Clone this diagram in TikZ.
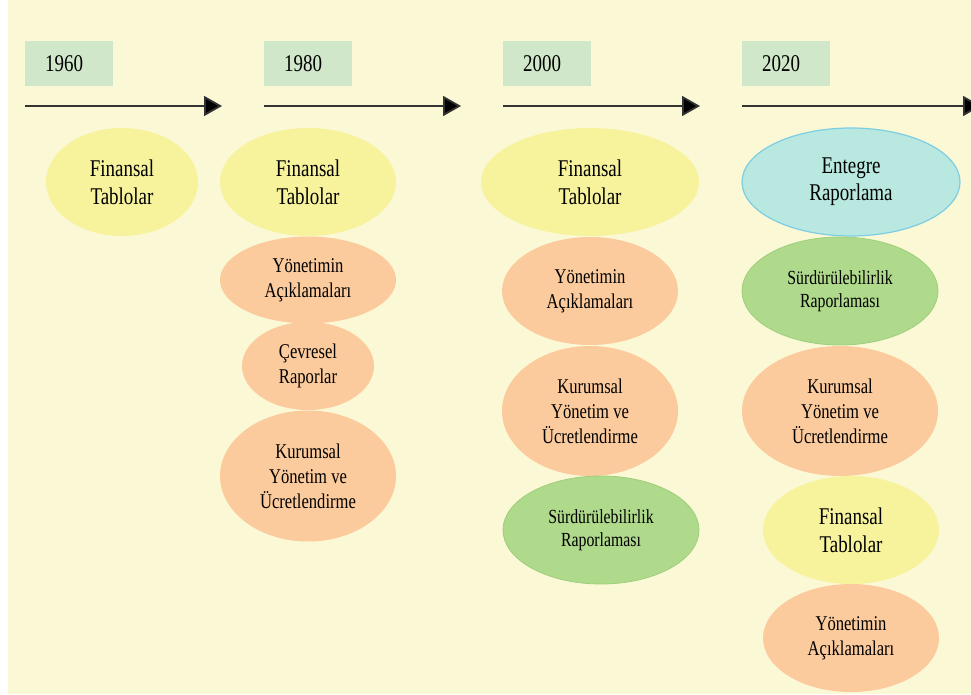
\documentclass[tikz,border=0pt]{standalone}
\usepackage{fontspec}
\setmainfont{Liberation Serif}
\newfontfamily\narrowserif[FakeStretch=0.79]{Liberation Serif}
\usepackage{tikz}
\usetikzlibrary{shapes.geometric,arrows.meta}

\definecolor{bgyellow}{HTML}{FBF8D6}
\definecolor{yeargreen}{HTML}{D0E7C9}
\definecolor{finyellow}{HTML}{F7F39D}
\definecolor{mgmtorange}{HTML}{FBCB9D}
\definecolor{susgreen}{HTML}{AFD98B}
\definecolor{susborder}{HTML}{9ECF7C}
\definecolor{intcyan}{HTML}{B8E8DF}
\definecolor{intborder}{HTML}{7DCDE3}

\begin{document}
\begin{tikzpicture}[x=1pt,y=-1pt,
  yearbox/.style={fill=yeargreen,anchor=north west,minimum height=45pt,text width=48pt,
    inner xsep=20pt,inner ysep=0pt,align=left,font=\narrowserif\fontsize{24}{28}\selectfont},
  timeline/.style={line width=1.8pt,draw=black!80,-{Triangle[length=18pt,width=20pt,fill=black]}},
  bubble/.style={ellipse,inner sep=0pt,align=center,font=\narrowserif\fontsize{21}{25}\selectfont},
  fin/.style={bubble,fill=finyellow,font=\narrowserif\fontsize{24}{28}\selectfont},
  mgmt/.style={bubble,fill=mgmtorange},
  sust/.style={bubble,fill=susgreen,draw=susborder,line width=0.8pt,font=\narrowserif\fontsize{20}{23}\selectfont},
  intg/.style={bubble,fill=intcyan,draw=intborder,line width=1.2pt,font=\narrowserif\fontsize{24}{27}\selectfont}]

  \useasboundingbox (0,0) rectangle (971,695);
  \fill[bgyellow] (8,0) rectangle (971,694);

  \node[yearbox] (y1960) at (25,41) {1960};
  \node[yearbox] (y1980) at (264,41) {1980};
  \node[yearbox] (y2000) at (503,41) {2000};
  \node[yearbox] (y2020) at (742,41) {2020};

  \coordinate (s1960) at (25,106);  \coordinate (e1960) at (222,106);
  \coordinate (s1980) at (264,106); \coordinate (e1980) at (461,106);
  \coordinate (s2000) at (503,106); \coordinate (e2000) at (700,106);
  \coordinate (s2020) at (742,106); \coordinate (e2020) at (981,106);
  \foreach \yr in {1960,1980,2000,2020}
    \draw[timeline] (s\yr) -- (e\yr);

  \node[fin,minimum width=152pt,minimum height=108pt] (f1960) at (122,182) {Finansal\\Tablolar};

  \node[fin,minimum width=176pt,minimum height=108pt] (f1980) at (308,182) {Finansal\\Tablolar};
  \node[mgmt,minimum width=176pt,minimum height=87pt] (m1980) at (308,280) {Yönetimin\\Açıklamaları};
  \node[mgmt,minimum width=132pt,minimum height=88pt] (c1980) at (308,366) {Çevresel\\Raporlar};
  \node[mgmt,minimum width=176pt,minimum height=131pt] (k1980) at (308,476) {Kurumsal\\Yönetim ve\\Ücretlendirme};

  \node[fin,minimum width=218pt,minimum height=108pt] (f2000) at (590,182) {Finansal\\Tablolar};
  \node[mgmt,minimum width=176pt,minimum height=108pt] (m2000) at (590,291) {Yönetimin\\Açıklamaları};
  \node[mgmt,minimum width=176pt,minimum height=130pt] (k2000) at (590,411) {Kurumsal\\Yönetim ve\\Ücretlendirme};
  \node[sust,minimum width=196pt,minimum height=108pt] (s2000) at (601,530) {Sürdürülebilirlik\\Raporlaması};

  \node[intg,minimum width=218pt,minimum height=108pt] (i2020) at (851,182) {Entegre\\Raporlama};
  \node[sust,minimum width=196pt,minimum height=108pt] (r2020) at (840,291) {Sürdürülebilirlik\\Raporlaması};
  \node[mgmt,minimum width=196pt,minimum height=130pt] (k2020) at (840,411) {Kurumsal\\Yönetim ve\\Ücretlendirme};
  \node[fin,minimum width=176pt,minimum height=108pt] (f2020) at (851,530) {Finansal\\Tablolar};
  \node[mgmt,minimum width=176pt,minimum height=108pt] (m2020) at (851,638) {Yönetimin\\Açıklamaları};
\end{tikzpicture}
\end{document}
